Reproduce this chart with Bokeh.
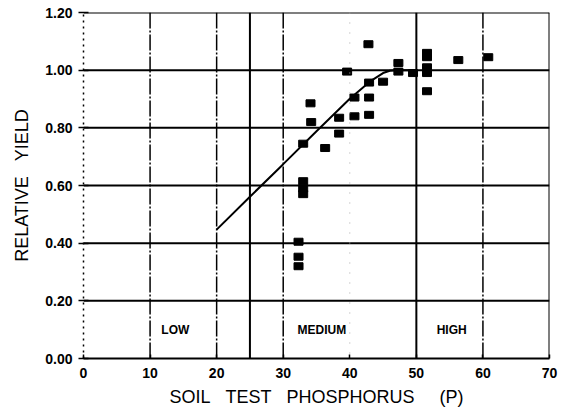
from bokeh.plotting import figure
from bokeh.models import Span, Label, FixedTicker, NumeralTickFormatter, Range1d
from bokeh.embed import file_html
from bokeh.resources import INLINE

# Observations: soil test phosphorus vs relative yield
phos = [32.3, 32.3, 32.3, 33.0, 33.0, 33.0, 33.0, 34.1, 34.2, 36.3,
        38.4, 38.4, 39.6, 40.7, 40.7, 42.8, 42.9, 42.9, 42.9, 45.0,
        47.3, 47.3, 49.5, 51.6, 51.6, 51.6, 51.6, 51.6, 56.3, 60.8]
rel_yield = [0.405, 0.353, 0.32, 0.615, 0.59, 0.57, 0.745, 0.885, 0.82, 0.73,
             0.835, 0.78, 0.995, 0.84, 0.905, 1.09, 0.845, 0.905, 0.957, 0.96,
             1.025, 0.995, 0.99, 1.06, 1.045, 1.01, 0.99, 0.927, 1.035, 1.045]

# Fitted response curve
curve_x = [20, 25, 30, 35, 40, 43, 44, 45, 46, 47, 50]
curve_y = [0.447, 0.561, 0.674, 0.788, 0.901, 0.96, 0.975, 0.99, 0.998, 1.0, 1.0]

solid_x = [25, 50, 70]
dashed_x = [10, 20, 30, 60]
faint_x = [40]
grid_y = [0.2, 0.4, 0.6, 0.8, 1.0, 1.2]

region_names = ["LOW", "MEDIUM", "HIGH"]
region_x = [13.8, 35.8, 55.3]
region_y = [0.10, 0.10, 0.10]

x_ticks = [0, 10, 20, 30, 40, 50, 60, 70]
y_ticks = [0.0, 0.2, 0.4, 0.6, 0.8, 1.0, 1.2]

FONT = "Liberation Sans Narrow, Liberation Sans, sans-serif"
NB = "\u00a0"

p = figure(width=565, height=412, output_backend="svg", toolbar_location=None,
           x_range=Range1d(0, 70), y_range=Range1d(0, 1.2),
           min_border_left=83, min_border_right=16, min_border_top=12,
           min_border_bottom=54)
p.outline_line_color = None
p.xgrid.grid_line_color = None
p.ygrid.grid_line_color = None
p.background_fill_color = "white"
p.border_fill_color = "white"

for yv in grid_y:
    p.add_layout(Span(location=yv, dimension="width", line_color="black", line_width=2))
for xv in solid_x:
    p.add_layout(Span(location=xv, dimension="height", line_color="black", line_width=2))
for xv in dashed_x:
    p.add_layout(Span(location=xv, dimension="height", line_color="black",
                      line_width=1.5, line_dash="16 2 2 2"))
for xv in faint_x:
    p.add_layout(Span(location=xv, dimension="height", line_color="#aaaaaa",
                      line_width=1, line_dash="1 9"))

p.line(curve_x, curve_y, line_color="black", line_width=2)
p.rect(phos, rel_yield, width=9, height=7, width_units="screen", height_units="screen",
       fill_color="black", line_color="black")

for name, xv, yv in zip(region_names, region_x, region_y):
    p.add_layout(Label(x=xv, y=yv, text=name, text_align="center", text_baseline="middle",
                       text_font=FONT, text_font_size="12px", text_font_style="bold",
                       text_color="black"))

p.xaxis.ticker = FixedTicker(ticks=x_ticks)
p.yaxis.ticker = FixedTicker(ticks=y_ticks)
p.yaxis.formatter = NumeralTickFormatter(format="0.00")
p.xaxis.axis_label = "SOIL" + NB * 3 + "TEST" + NB * 3 + "PHOSPHORUS" + NB * 5 + "(P)"
p.yaxis.axis_label = "RELATIVE" + NB * 3 + "YIELD"
for ax in (p.xaxis, p.yaxis):
    ax.axis_label_text_font = FONT
    ax.axis_label_text_font_size = "18px"
    ax.axis_label_text_font_style = "normal"
    ax.axis_label_text_color = "black"
    ax.major_label_text_font = "Liberation Sans, sans-serif"
    ax.major_label_text_font_size = "14px"
    ax.major_label_text_font_style = "bold"
    ax.major_label_text_color = "black"
    ax.minor_tick_line_color = None
    ax.major_tick_line_color = "black"
    ax.major_tick_line_width = 1.5

p.xaxis.axis_line_width = 2
p.xaxis.major_tick_in = 4
p.xaxis.major_tick_out = 0
p.xaxis.major_label_standoff = 9
p.xaxis.axis_label_standoff = 6

p.yaxis.axis_line_width = 1.5
p.yaxis.axis_line_dash = "2 4"
p.yaxis.major_tick_in = 5
p.yaxis.major_tick_out = 5
p.yaxis.major_label_standoff = 6
p.yaxis.axis_label_standoff = 10

open("out.html", "w").write(file_html(p, INLINE))
